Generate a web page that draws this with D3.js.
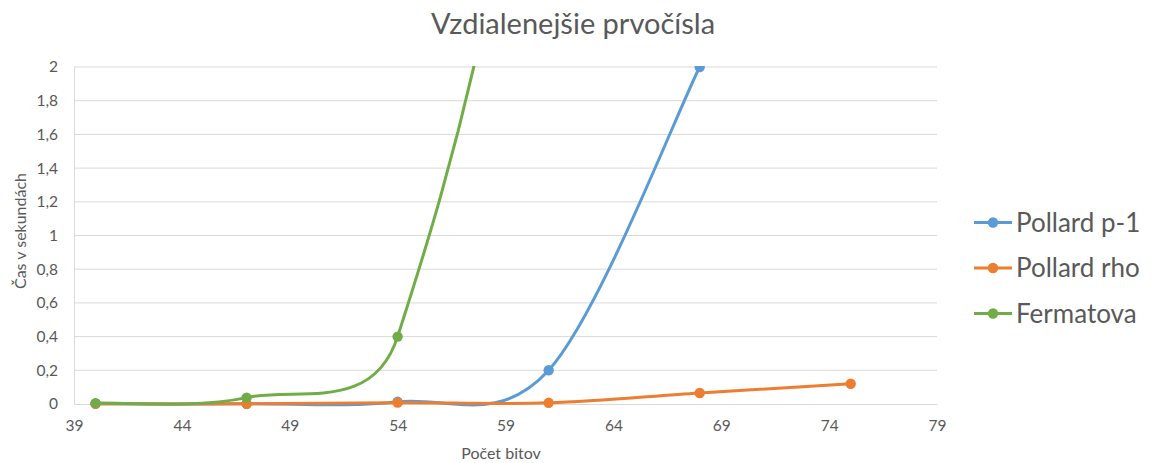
<!DOCTYPE html>
<html><head><meta charset="utf-8">
<script src="https://cdn.jsdelivr.net/npm/d3@7"></script>
<style>
html,body{margin:0;padding:0;background:#fff;}
text{font-family:Lato,"Noto Sans",sans-serif;fill:#595959;}
</style></head>
<body>
<svg id="chart" width="1153" height="463"></svg>
<script>
const title = "Vzdialenejšie prvočísla";
const xTitle = "Počet bitov";
const yTitle = "Čas v sekundách";
const seriesNames = ["Pollard p-1", "Pollard rho", "Fermatova"];
const seriesColors = ["#5B9BD5", "#ED7D31", "#70AD47"];
const bits = [40, 47, 54, 61, 68, 75];
const pollardP1 = [0.002, 0.001, 0.013, 0.2, 2.0];
const pollardRho = [0.001, 0.001, 0.008, 0.007, 0.065, 0.12];
const fermatova = [0.005, 0.038, 0.4, 5.6, 60];
const xTicks = [39, 44, 49, 54, 59, 64, 69, 74, 79];
const yTicks = [0, 0.2, 0.4, 0.6, 0.8, 1, 1.2, 1.4, 1.6, 1.8, 2];

// Excel-style smoothed line: Bezier segments, control arms capped at half the segment length
function curveExcel(context) {
  let pts;
  const dist = (a, b) => Math.hypot(a[0] - b[0], a[1] - b[1]);
  return {
    areaStart() {}, areaEnd() {},
    lineStart() { pts = []; },
    point(px, py) { pts.push([+px, +py]); },
    lineEnd() {
      const n = pts.length;
      if (!n) return;
      context.moveTo(pts[0][0], pts[0][1]);
      for (let i = 0; i < n - 1; i++) {
        const p0 = pts[Math.max(i - 1, 0)], p1 = pts[i], p2 = pts[i + 1], p3 = pts[Math.min(i + 2, n - 1)];
        const d12 = dist(p1, p2), d02 = dist(p0, p2), d13 = dist(p1, p3);
        let f0 = 1 / 6, f1 = 1 / 6;
        if (d02 / 6 > d12 / 2) f0 = d12 / 2 / d02;
        if (d13 / 6 > d12 / 2) f1 = d12 / 2 / d13;
        context.bezierCurveTo(
          p1[0] + (p2[0] - p0[0]) * f0, p1[1] + (p2[1] - p0[1]) * f0,
          p2[0] - (p3[0] - p1[0]) * f1, p2[1] - (p3[1] - p1[1]) * f1,
          p2[0], p2[1]);
      }
    }
  };
}

const svg = d3.select("#chart");
const x = d3.scaleLinear().domain([39, 79]).range([74, 937]);
const y = d3.scaleLinear().domain([0, 2]).range([404, 67]);
const fmt = v => String(Math.round(v * 10) / 10).replace(".", ",");

svg.append("defs").append("clipPath").attr("id", "clip")
  .append("rect").attr("x", 60).attr("y", 66).attr("width", 900).attr("height", 345);

// gridlines
svg.append("g").selectAll("line").data(yTicks.filter(v => v > 0)).join("line")
  .attr("x1", 74).attr("x2", 937).attr("y1", d => y(d)).attr("y2", d => y(d))
  .attr("stroke", "#d9d9d9").attr("stroke-width", 1);

// y axis
const yAxis = svg.append("g").attr("transform", "translate(74,0)")
  .call(d3.axisLeft(y).tickValues(yTicks).tickFormat(fmt).tickSize(0).tickPadding(16));
yAxis.select(".domain").attr("stroke", "#d9d9d9");
yAxis.selectAll("text").style("font-size", "15.5px").attr("fill", "#595959");

// x axis
const xAxis = svg.append("g").attr("transform", "translate(0,404)")
  .call(d3.axisBottom(x).tickValues(xTicks).tickFormat(d => d).tickSize(0).tickPadding(16));
xAxis.select(".domain").attr("stroke", "#d9d9d9");
xAxis.selectAll("text").style("font-size", "15.5px").attr("fill", "#595959");

// titles
svg.append("text").attr("x", 573).attr("y", 34).attr("text-anchor", "middle")
  .style("font-size", "29px").text(title);
svg.append("text").attr("x", 501).attr("y", 459).attr("text-anchor", "middle")
  .style("font-size", "16px").text(xTitle);
svg.append("text").attr("transform", "translate(26,231) rotate(-90)").attr("text-anchor", "middle")
  .style("font-size", "16px").text(yTitle);

const allSeries = [pollardP1, pollardRho, fermatova];
const line = d3.line().x(d => x(d[0])).y(d => y(d[1])).curve(curveExcel);
const plot = svg.append("g").attr("clip-path", "url(#clip)");
allSeries.forEach((vals, i) => {
  const pts = vals.map((v, j) => [bits[j], v]);
  plot.append("path").datum(pts).attr("d", line).attr("fill", "none")
    .attr("stroke", seriesColors[i]).attr("stroke-width", 3).attr("stroke-linecap", "round");
  plot.selectAll(null).data(pts.filter(p => p[1] <= 2.001)).join("circle")
    .attr("cx", p => x(p[0])).attr("cy", p => y(p[1])).attr("r", 5.2)
    .attr("fill", seriesColors[i]);
});

// legend
const legendY = [222.5, 268, 313.5];
const lg = svg.append("g");
seriesNames.forEach((name, i) => {
  lg.append("line").attr("x1", 974).attr("x2", 1012).attr("y1", legendY[i]).attr("y2", legendY[i])
    .attr("stroke", seriesColors[i]).attr("stroke-width", 3);
  lg.append("circle").attr("cx", 993).attr("cy", legendY[i]).attr("r", 5.2).attr("fill", seriesColors[i]);
  lg.append("text").attr("x", 1016).attr("y", legendY[i]).attr("dy", "0.36em")
    .style("font-size", "26px").text(name);
});
</script>
</body></html>
